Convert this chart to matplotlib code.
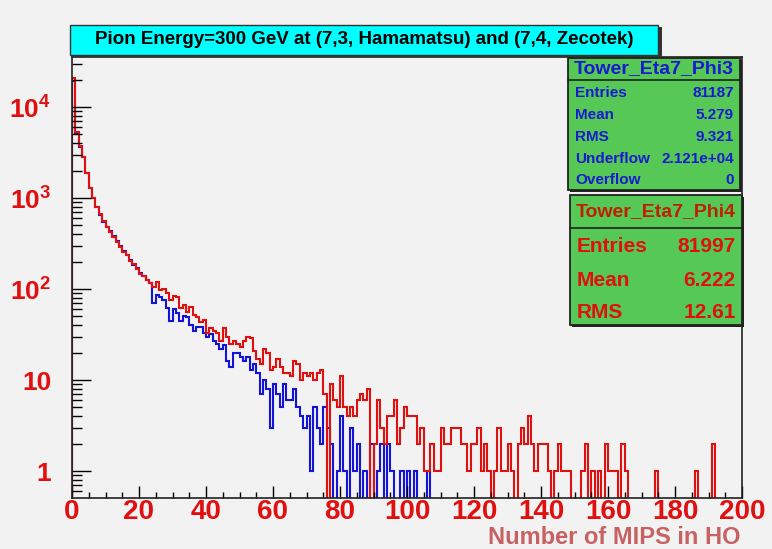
import matplotlib
matplotlib.use('Agg')
import matplotlib.pyplot as plt
from matplotlib.patches import Rectangle
from matplotlib.ticker import FixedLocator, LogLocator, MultipleLocator, NullFormatter
import numpy as np

plt.rcParams['font.family'] = ['Liberation Sans', 'DejaVu Sans']
plt.rcParams['font.weight'] = 'bold'
plt.rcParams['mathtext.fontset'] = 'custom'
plt.rcParams['mathtext.rm'] = 'Liberation Sans:bold'
plt.rcParams['mathtext.it'] = 'Liberation Sans:bold'
plt.rcParams['mathtext.bf'] = 'Liberation Sans:bold'

# histogram binning: 200 bins of 1 MIP from 0 to 200
x_lo, x_hi, n_bins = 0, 200, 200

# Tower_Eta7_Phi3 (Hamamatsu), counts per bin
phi3_counts = [
    19500, 5200, 3600, 2800, 1900, 1300, 1000, 800, 650, 550,
    480, 430, 380, 340, 300, 260, 235, 210, 185, 170,
    150, 140, 125, 116, 70, 85, 81, 75, 62, 45,
    60, 54, 45, 50, 49, 40, 35, 38, 38, 33,
    30, 32, 27, 25, 22, 24, 16, 14, 20, 20,
    18, 16, 18, 13, 15, 12, 7, 10, 8, 3,
    9, 7, 5, 9, 6, 6, 8, 5, 4, 3,
    4, 1, 5, 3, 2, 5, 3, 2, 0, 1,
    4, 1, 0, 3, 1, 2, 0, 1, 0, 2,
    0, 1, 2, 0, 2, 1, 0, 0, 1, 0,
    1, 0, 1, 0, 0, 0, 1, 0, 0, 0,
    0, 0, 0, 0, 0, 0, 0, 0, 0, 0,
    0, 0, 0, 0, 0, 0, 0, 0, 0, 0,
    0, 0, 0, 0, 0, 0, 0, 0, 0, 0,
    0, 0, 0, 0, 0, 0, 0, 0, 0, 0,
    0, 0, 0, 0, 0, 0, 0, 0, 0, 0,
    0, 0, 0, 0, 0, 0, 0, 0, 0, 0,
    0, 0, 0, 0, 0, 0, 0, 0, 0, 0,
    0, 0, 0, 0, 0, 0, 0, 0, 0, 0,
    0, 0, 0, 0, 0, 0, 0, 0, 0, 0,
]

# Tower_Eta7_Phi4 (Zecotek), counts per bin
phi4_counts = [
    21000, 5300, 3700, 2800, 1900, 1300, 1000, 790, 660, 560,
    480, 420, 370, 330, 290, 255, 235, 205, 190, 165,
    145, 138, 125, 116, 105, 120, 97, 100, 90, 76,
    84, 81, 62, 66, 56, 63, 52, 49, 43, 46,
    33, 37, 35, 33, 27, 37, 30, 25, 27, 25,
    23, 27, 30, 29, 21, 17, 15, 22, 20, 13,
    14, 17, 14, 12, 12, 11, 16, 15, 10, 12,
    11, 12, 10, 12, 13, 7, 0, 9, 6, 5,
    11, 5, 4, 5, 4, 6, 7, 6, 8, 0,
    2, 6, 3, 2, 4, 4, 6, 2, 3, 5,
    4, 4, 4, 2, 3, 1, 1, 2, 1, 1,
    3, 2, 2, 3, 3, 3, 2, 2, 1, 2,
    2, 3, 1, 2, 1, 0, 1, 3, 1, 1,
    2, 1, 0, 2, 3, 2, 4, 2, 1, 2,
    2, 2, 1, 0, 1, 2, 1, 1, 1, 0,
    0, 0, 1, 2, 0, 1, 0, 1, 0, 2,
    1, 1, 1, 0, 2, 1, 0, 0, 0, 0,
    0, 0, 0, 0, 1, 0, 0, 0, 0, 0,
    0, 0, 0, 0, 0, 0, 1, 0, 0, 0,
    0, 2, 0, 0, 0, 0, 0, 0, 0, 0,
]

title = 'Pion Energy=300 GeV at (7,3, Hamamatsu) and (7,4, Zecotek)'
x_title = 'Number of MIPS in HO'
x_tick_values = [0, 20, 40, 60, 80, 100, 120, 140, 160, 180, 200]
y_tick_values = [1, 10, 100, 1000, 10000]
y_tick_labels = ['1', '10', '$10^{2}$', '$10^{3}$', '$10^{4}$']

stats_phi3_name = 'Tower_Eta7_Phi3'
stats_phi3 = [('Entries', '81187'), ('Mean', '5.279'), ('RMS', '9.321'),
              ('Underflow', '2.121e+04'), ('Overflow', '0')]
stats_phi4_name = 'Tower_Eta7_Phi4'
stats_phi4 = [('Entries', '81997'), ('Mean', '6.222'), ('RMS', '12.61')]

W, H = 772, 549
bg = '#f2f2f2'
red = '#e01010'
blue = '#1414d8'
green = '#55c855'

fig = plt.figure(figsize=(W / 100, H / 100), dpi=100, facecolor=bg)


def fx(px):
    return px / W


def fy(py):
    return 1 - py / H


ax = fig.add_axes([fx(72), fy(498), fx(742) - fx(72), fy(57) - fy(498)])
ax.set_facecolor(bg)

edges = np.linspace(x_lo, x_hi, n_bins + 1)
ax.stairs(phi3_counts, edges, color=blue, lw=1.5)
ax.stairs(phi4_counts, edges, color=red, lw=1.5)

ax.set_yscale('log')
ax.set_xlim(x_lo, x_hi)
ax.set_ylim(0.505, 35500)

for s in ax.spines.values():
    s.set_linewidth(1.2)
    s.set_color('#222222')

ax.xaxis.set_major_locator(FixedLocator(x_tick_values))
ax.xaxis.set_minor_locator(MultipleLocator(5))
ax.set_xticklabels([str(v) for v in x_tick_values])
ax.yaxis.set_major_locator(FixedLocator(y_tick_values))
ax.yaxis.set_minor_locator(LogLocator(base=10, subs=np.arange(2, 10)))
ax.yaxis.set_minor_formatter(NullFormatter())
ax.set_yticklabels(y_tick_labels)

ax.tick_params(axis='x', which='major', direction='in', length=9, width=1,
               labelsize=20, labelcolor=red, pad=1, top=False)
ax.tick_params(axis='x', which='minor', direction='in', length=4.5, width=1, top=False)
ax.tick_params(axis='y', which='major', direction='in', length=14, width=1,
               labelsize=19, labelcolor=red, pad=15, right=False)
ax.tick_params(axis='y', which='minor', direction='in', length=7, width=1, right=False)

fig.text(fx(740), fy(537), x_title, ha='right', va='center', fontsize=17,
         color='#c86262', weight='bold')

# title box with shadow
fig.add_artist(Rectangle((fx(72), fy(57)), fx(660) - fx(70), fy(27) - fy(57),
                         transform=fig.transFigure, facecolor='#333333', edgecolor='none'))
fig.add_artist(Rectangle((fx(70), fy(55)), fx(658) - fx(70), fy(25) - fy(55),
                         transform=fig.transFigure, facecolor='#00ffff',
                         edgecolor='#333333', lw=1))
fig.text(fx(364), fy(40), title, ha='center', va='center', fontsize=13.5,
         color='black', weight='bold')


def stats_box(x0, x1, y0, y1, head_y, name, rows, color, name_color, size, name_size, row_ys):
    fig.add_artist(Rectangle((fx(x0 + 2), fy(y1 + 2)), fx(x1) - fx(x0), fy(y0) - fy(y1),
                             transform=fig.transFigure, facecolor='#222222', edgecolor='none'))
    fig.add_artist(Rectangle((fx(x0), fy(y1)), fx(x1) - fx(x0), fy(y0) - fy(y1),
                             transform=fig.transFigure, facecolor=green,
                             edgecolor='#222222', lw=1.3))
    fig.add_artist(plt.Line2D([fx(x0), fx(x1)], [fy(head_y), fy(head_y)],
                              transform=fig.transFigure, color='#222222', lw=1.2))
    fig.text(fx((x0 + x1) / 2), fy((y0 + head_y) / 2), name, ha='center', va='center',
             fontsize=name_size, color=name_color, weight='bold')
    for (k, v), ry in zip(rows, row_ys):
        fig.text(fx(x0 + 7), fy(ry), k, ha='left', va='center', fontsize=size,
                 color=color, weight='bold')
        fig.text(fx(x1 - 6), fy(ry), v, ha='right', va='center', fontsize=size,
                 color=color, weight='bold')


stats_box(568, 740, 58, 190, 80, stats_phi3_name, stats_phi3, '#1a1ad0', '#1a1ad0',
          11, 14, [93, 115, 137, 159, 180])
stats_box(570, 742, 195, 325, 228, stats_phi4_name, stats_phi4, '#e01010', '#c02000',
          15, 14, [247, 280, 312])

fig.savefig('out.png', dpi=100, facecolor=bg)
